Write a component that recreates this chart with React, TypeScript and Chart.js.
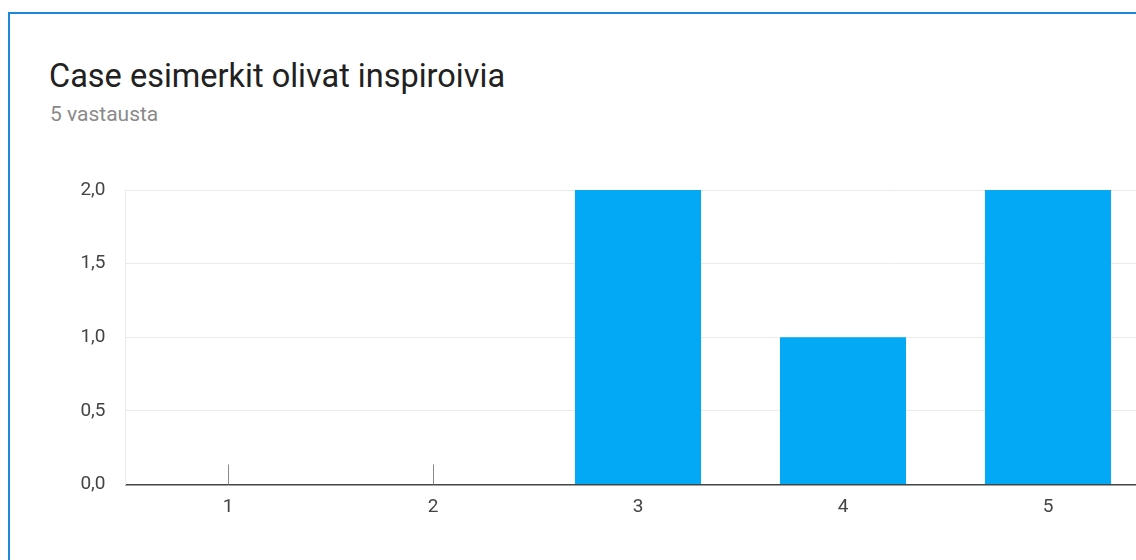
import React, { useEffect, useRef } from "react";
import { Chart, registerables } from "chart.js";

Chart.register(...registerables);

const title = "Case esimerkit olivat inspiroivia";
const subtitle = "5 vastausta";
const categories = ["1", "2", "3", "4", "5"];
const counts = [0, 0, 2, 1, 2];
const yTicks = [0, 0.5, 1, 1.5, 2];

const zeroMarks = {
  id: "zeroMarks",
  afterDatasetsDraw(chart: any) {
    const x = chart.scales.x;
    const y = chart.scales.y;
    const ctx = chart.ctx;
    ctx.save();
    ctx.strokeStyle = "#8a8a8a";
    ctx.lineWidth = 1;
    counts.forEach((v, i) => {
      if (v === 0) {
        const px = Math.round(x.getPixelForValue(i)) + 0.5;
        const base = y.getPixelForValue(0);
        ctx.beginPath();
        ctx.moveTo(px, base);
        ctx.lineTo(px, base - 20);
        ctx.stroke();
      }
    });
    ctx.restore();
  },
};

export default function App() {
  const ref = useRef<HTMLCanvasElement | null>(null);
  useEffect(() => {
    if (!ref.current) return;
    const chart = new Chart(ref.current, {
      type: "bar",
      data: {
        labels: categories,
        datasets: [
          {
            data: counts,
            backgroundColor: "#03A9F4",
            borderWidth: 0,
            categoryPercentage: 1,
            barPercentage: 0.615,
          },
        ],
      },
      options: {
        animation: false,
        responsive: false,
        maintainAspectRatio: false,
        layout: { padding: { top: 190, right: 29.5, bottom: 0, left: 0 } },
        plugins: {
          legend: { display: false },
          tooltip: { enabled: false },
        },
        scales: {
          x: {
            grid: { display: false, drawTicks: false },
            border: { display: true, color: "#444444", width: 1.5 },
            ticks: {
              color: "#444",
              font: { family: "Roboto", size: 19 },
              padding: 11,
            },
            afterFit(scale: any) {
              scale.height = 75.5;
            },
          },
          y: {
            min: 0,
            max: 2,
            afterBuildTicks(scale: any) {
              scale.ticks = yTicks.map((v) => ({ value: v }));
            },
            grid: { color: "#ebebeb", drawTicks: false, lineWidth: 1 },
            border: { display: true, color: "#ebebeb" },
            ticks: {
              color: "#444",
              font: { family: "Roboto", size: 19 },
              padding: 20,
              callback: (v: any) => Number(v).toFixed(1).replace(".", ","),
            },
            afterFit(scale: any) {
              scale.width = 125.5;
            },
          },
        },
      },
      plugins: [zeroMarks],
    });
    return () => chart.destroy();
  }, []);

  return (
    <div
      style={{
        position: "fixed",
        left: 0,
        top: 0,
        width: 1136,
        height: 560,
        overflow: "hidden",
        background: "#fff",
        fontFamily: "Roboto, sans-serif",
      }}
    >
      <div
        style={{
          position: "absolute",
          left: 8,
          top: 12,
          width: 1200,
          height: 600,
          border: "2px solid #1E88D8",
          boxSizing: "border-box",
        }}
      />
      <div
        style={{
          position: "absolute",
          left: 49,
          top: 55,
          fontSize: 32.5,
          color: "#212121",
          whiteSpace: "nowrap",
          lineHeight: "42px",
        }}
      >
        {title}
      </div>
      <div
        style={{
          position: "absolute",
          left: 50,
          top: 100,
          fontSize: 21,
          color: "#8a8a8a",
          whiteSpace: "nowrap",
          lineHeight: "28px",
        }}
      >
        {subtitle}
      </div>
      <canvas
        ref={ref}
        width={1180}
        height={560}
        style={{ position: "absolute", left: 0, top: 0, width: 1180, height: 560 }}
      />
    </div>
  );
}
